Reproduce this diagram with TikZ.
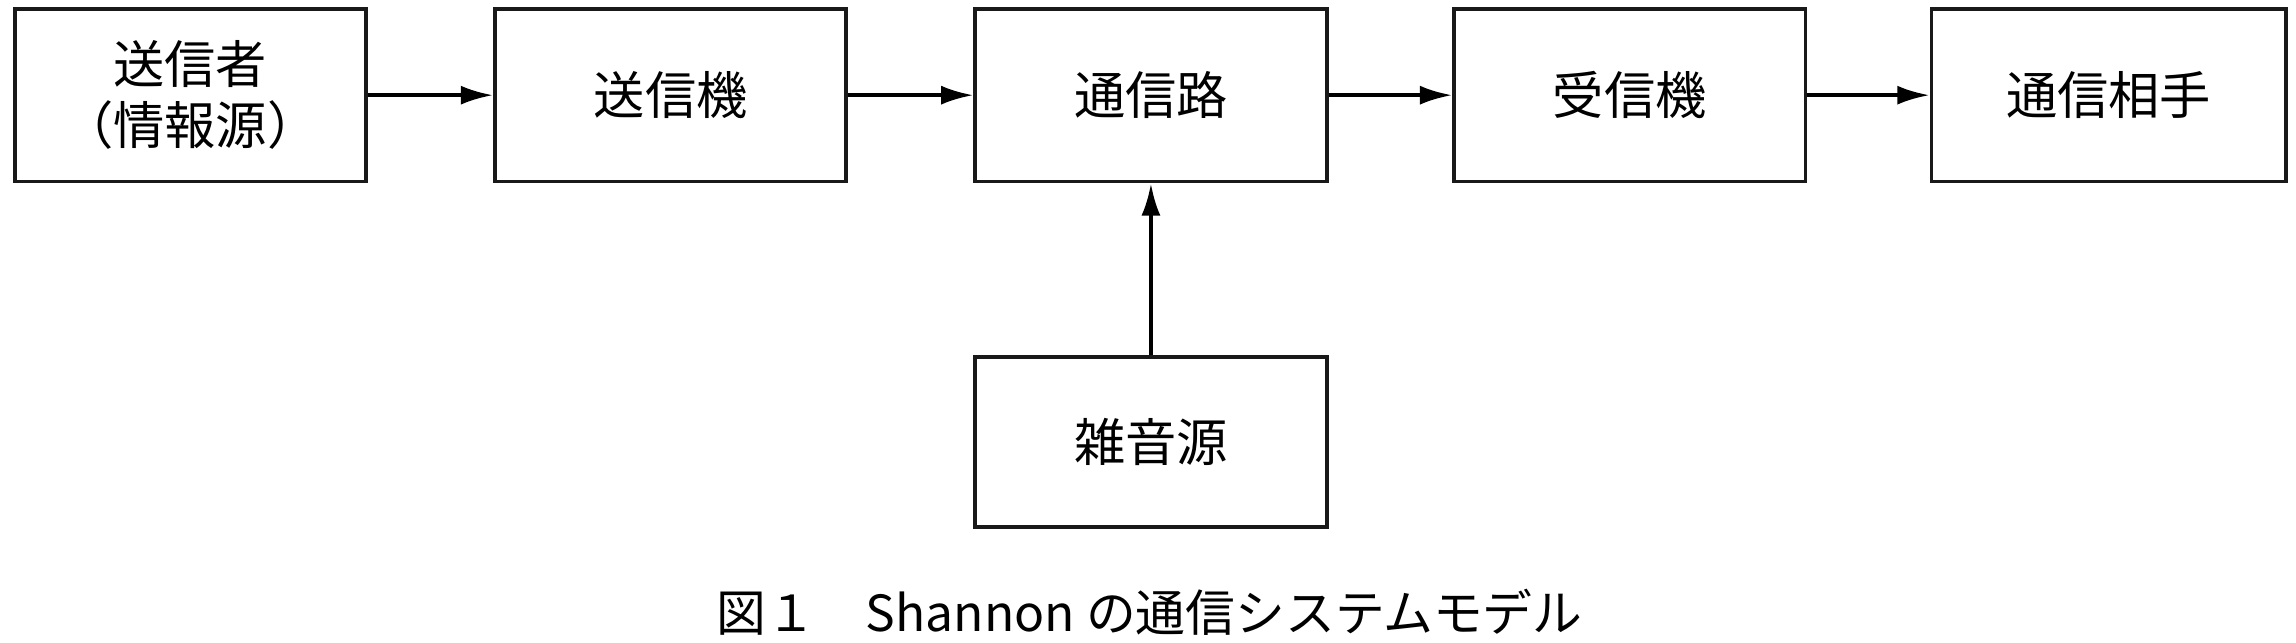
\documentclass[tikz,border=0pt]{standalone}
\usepackage{fontspec}
\newfontfamily\cjk{Noto Sans CJK JP}
\usetikzlibrary{arrows.meta}
\begin{document}
\begin{tikzpicture}[x=1pt,y=-1pt,
  blk/.style={draw=black!90,line width=2.6pt,minimum width=240pt,minimum height=118pt,inner sep=0pt,font=\cjk\fontsize{35}{42}\selectfont,align=center},
  arr/.style={line width=2.6pt,-{Latex[length=22pt,width=13pt]}}]
\useasboundingbox (0,0) rectangle (1568,439);
\node[blk] (a) at (130,65) {送信者\\（情報源）};
\node[blk] (b) at (458,65) {送信機};
\node[blk] (c) at (786,65) {通信路};
\node[blk] (d) at (1113,65) {受信機};
\node[blk,minimum width=242pt] (e) at (1440,65) {通信相手};
\node[blk,minimum height=116pt] (n) at (786,302) {雑音源};
\draw[arr] (a) -- (b);
\draw[arr] (b) -- (c);
\draw[arr] (c) -- (d);
\draw[arr] (d) -- (e);
\draw[arr] (n) -- (c);
\node[font=\cjk\fontsize{34}{40}\selectfont] (cap) at (785,418) {図１　Shannon の通信システムモデル};
\end{tikzpicture}
\end{document}
